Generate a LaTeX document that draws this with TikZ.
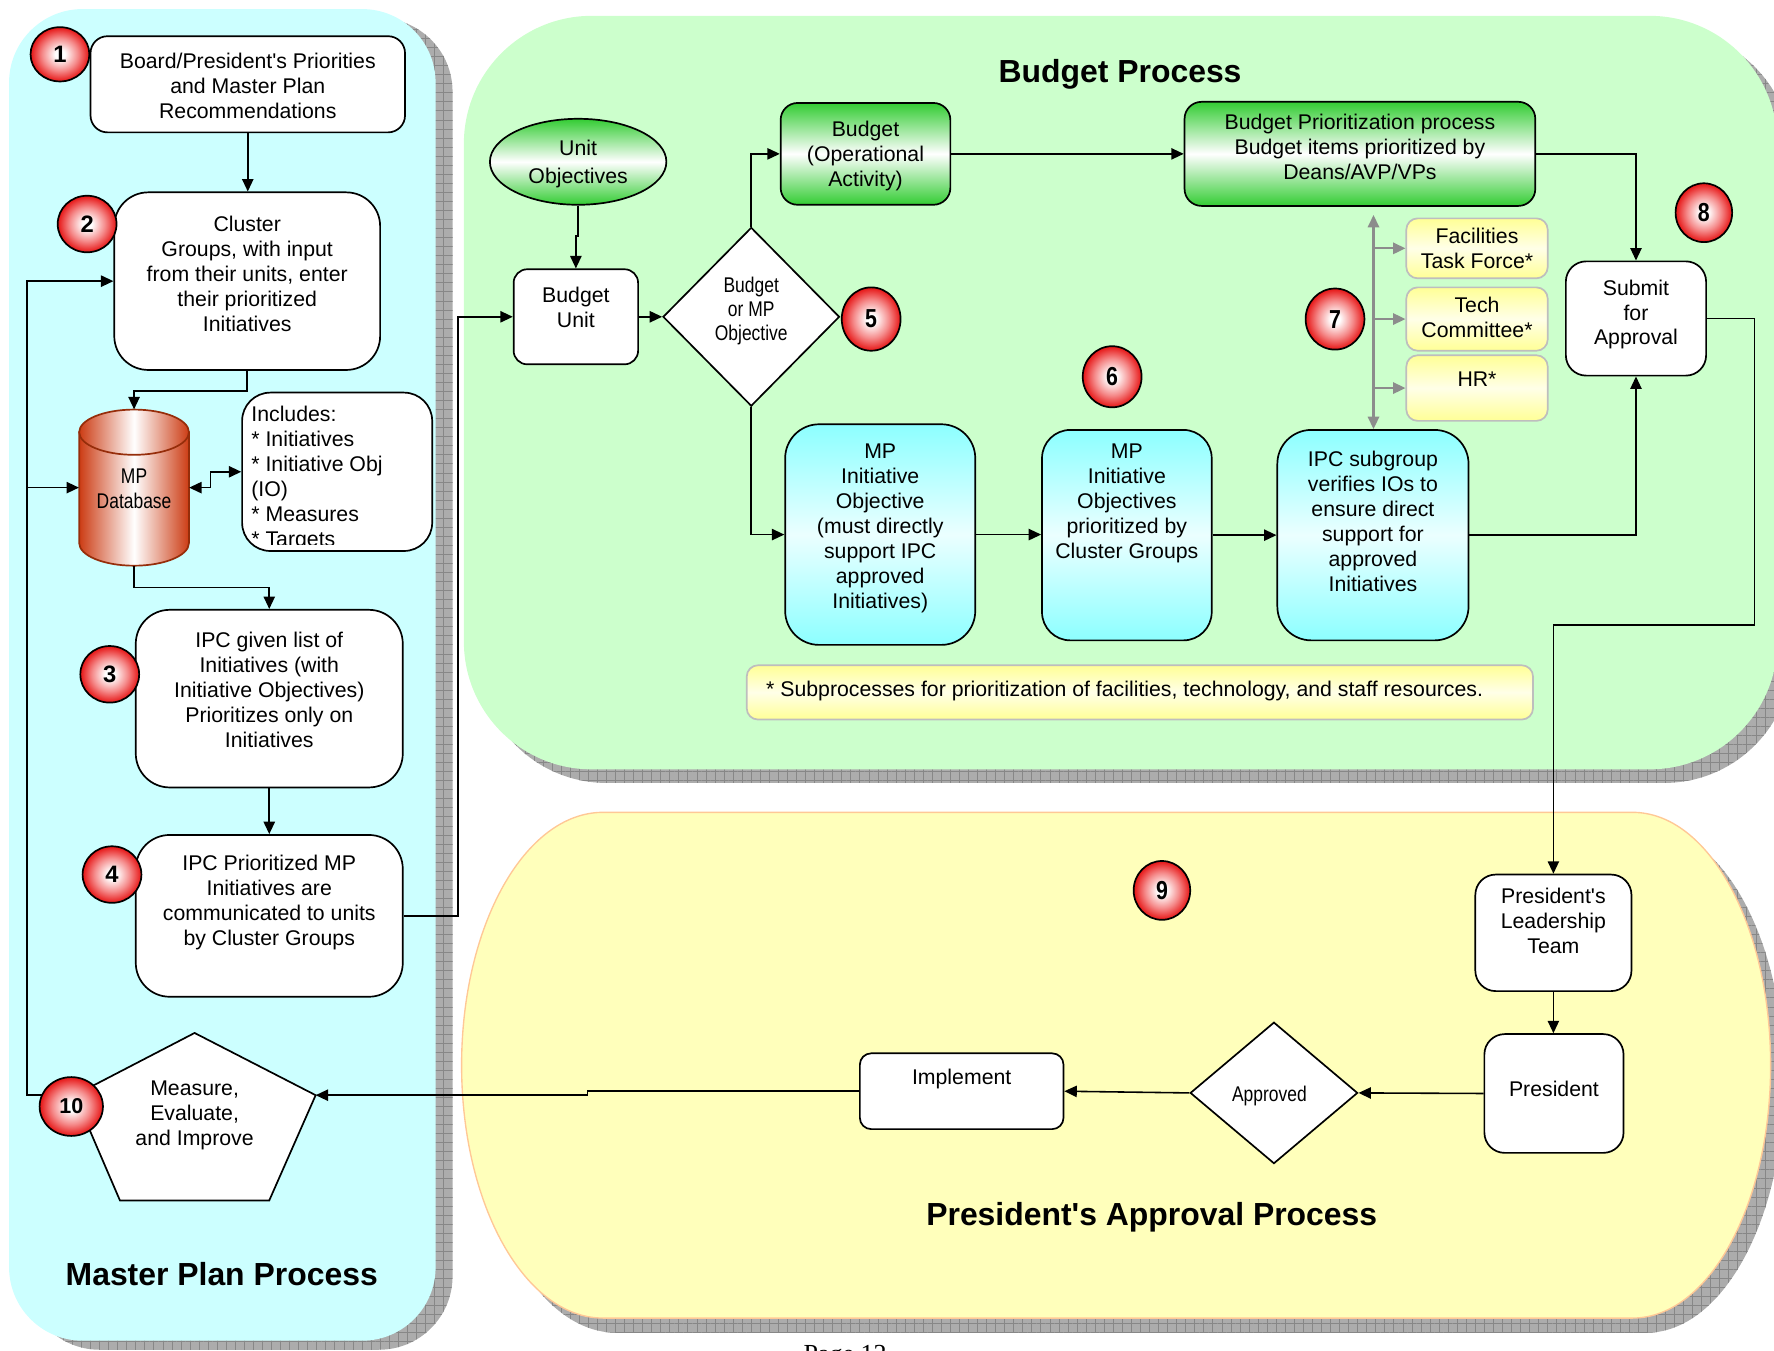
\documentclass[tikz,border=0pt]{standalone}
\usepackage{fontspec}
\setmainfont{Liberation Sans}[Ligatures=TeXOff]
\newfontfamily\narrowfont{Liberation Sans}[FakeStretch=0.82,Ligatures=TeXOff]
\newfontfamily\pagefont{Liberation Serif}
\usetikzlibrary{shapes.geometric,arrows.meta,patterns.meta}
\definecolor{mpcyan}{RGB}{204,255,255}
\definecolor{bgreen}{RGB}{204,255,204}
\definecolor{pyel}{RGB}{255,255,187}
\definecolor{pyedge}{RGB}{255,200,150}
\definecolor{shadowgray}{RGB}{172,172,172}
\definecolor{gridgray}{RGB}{135,135,135}
\definecolor{ggreen}{RGB}{51,204,51}
\definecolor{ccyan}{RGB}{140,255,255}
\definecolor{cwhite}{RGB}{235,255,255}
\definecolor{yyel}{RGB}{255,255,150}
\definecolor{ylight}{RGB}{255,255,232}
\definecolor{ygrey}{RGB}{190,190,190}
\definecolor{dbred}{RGB}{204,60,20}
\definecolor{dbedge}{RGB}{150,45,10}
\definecolor{garrow}{RGB}{140,140,140}
\definecolor{ballred}{RGB}{230,20,20}
\definecolor{ballmid}{RGB}{245,140,140}
\pgfdeclareradialshading{redball}{\pgfpoint{0bp}{0bp}}{color(0bp)=(white); color(4bp)=(white); color(15bp)=(ballmid); color(25bp)=(ballred); color(50bp)=(ballred)}
\begin{document}
\begin{tikzpicture}[x=1pt,y=-1pt,
  box/.style={draw=black, line width=1.5pt, fill=white, inner sep=0pt, rounded corners=#1},
  box/.default=15pt,
  gbox/.style={box=#1, top color=ggreen, bottom color=ggreen, middle color=white},
  gbox/.default=15pt,
  cbox/.style={box=#1, top color=ccyan, bottom color=ccyan, middle color=cwhite},
  cbox/.default=30pt,
  ybox/.style={draw=ygrey, line width=1.5pt, inner sep=0pt, rounded corners=10pt, top color=yyel, bottom color=yyel, middle color=ylight},
  txt/.style={align=center, font=\fontsize{18.8}{22}\selectfont, inner sep=0pt},
  ntxt/.style={align=center, font=\narrowfont\fontsize{18.8}{21.5}\selectfont, inner sep=0pt},
  ball/.style={ellipse, draw=black, line width=1.5pt, shading=redball, inner sep=0pt, font=\bfseries\fontsize{21}{21}\selectfont},
  nball/.style={ball, font=\narrowfont\bfseries\fontsize{23}{23}\selectfont},
  dia/.style={diamond, draw=black, line width=1.5pt, fill=white, inner sep=0pt},
  conn/.style={line width=1.4pt, -{Triangle[length=11pt,width=10pt]}},
  dconn/.style={line width=1.4pt, {Triangle[length=11pt,width=10pt]}-{Triangle[length=11pt,width=10pt]}},
  gconn/.style={draw=garrow, line width=2pt, -{Triangle[length=11pt,width=10pt]}},
  ttl/.style={font=\bfseries\fontsize{28.2}{30}\selectfont, inner sep=0pt, anchor=base},
  shadowfill/.style={fill=shadowgray},
  gridh/.style={pattern={Lines[angle=0,distance=8pt,line width=0.7pt]}, pattern color=gridgray},
  gridv/.style={pattern={Lines[angle=90,distance=8pt,line width=0.7pt]}, pattern color=gridgray}
]
\useasboundingbox (0,0) rectangle (1568,1194);

% ---------- panel shadows ----------
\foreach \g in {shadowfill,gridh,gridv}{
  \path[\g, rounded corners=65pt] (23,16) rectangle (400,1193);
  \path[\g, rounded corners=113pt] (423,26) rectangle (1584,692);
  \path[\g] (545,731) -- (1455,731) arc[start angle=90,end angle=-90,x radius=122pt,y radius=223.5pt]
     -- (545,1178) arc[start angle=270,end angle=90,x radius=125pt,y radius=223.5pt] -- cycle;
}
% ---------- panels ----------
\fill[mpcyan, rounded corners=65pt] (8,8) rectangle (385,1185);
\fill[bgreen, rounded corners=113pt] (410,14) rectangle (1571,680);
\filldraw[fill=pyel, draw=pyedge, line width=1.2pt] (533,718) -- (1443,718)
   arc[start angle=90,end angle=-90,x radius=122pt,y radius=223.5pt]
   -- (533,1165) arc[start angle=270,end angle=90,x radius=125pt,y radius=223.5pt] -- cycle;

% ---------- titles ----------
\node[ttl] (tmp) at (196,1136) {Master Plan Process};
\node[ttl] (tbp) at (990,73) {Budget Process};
\node[ttl] (tpa) at (1018,1083) {President's Approval Process};

% ---------- Master Plan nodes ----------
\node[box=15pt, minimum width=278, minimum height=85] (b1) at (219,74.5) {};
\node[txt] (t1) at (219,76) {Board/President's Priorities\\and Master Plan\\Recommendations};
\node[box=30pt, minimum width=235, minimum height=157] (b2) at (218.5,248.5) {};
\node[txt] (t2) at (218.5,242) {Cluster\\Groups, with input\\from their units, enter\\their prioritized\\Initiatives};

% database cylinder
\path[left color=dbred, right color=dbred, middle color=white, draw=dbedge, line width=1.5pt]
  (70,382) -- (70,480) arc[start angle=180,end angle=360,x radius=48.5pt,y radius=20pt] -- (167,382) -- cycle;
\path[left color=dbred, right color=dbred, middle color=white, draw=dbedge, line width=1.5pt]
  (118.5,382) ellipse[x radius=48.5pt, y radius=20pt];
\node[minimum width=97, minimum height=138, inner sep=0pt] (db) at (118.5,431) {};
\node[ntxt] (tdb) at (118.5,432) {MP\\Database};

\node[box=25pt, minimum width=168, minimum height=140] (inc) at (298,417) {};
\begin{scope}
  \clip[rounded corners=24pt] (215,348) rectangle (381,481);
  \node[txt, align=left, anchor=north west] (tinc) at (222,359) {Includes:\\* Initiatives\\* Initiative Obj\\(IO)\\* Measures\\* Targets};
\end{scope}

\node[box=30pt, minimum width=236, minimum height=157] (b3) at (238,617.5) {};
\node[txt] (t3) at (238,610) {IPC given list of\\Initiatives (with\\Initiative Objectives)\\Prioritizes only on\\Initiatives};
\node[box=30pt, minimum width=236, minimum height=143] (b4) at (238,809.5) {};
\node[txt] (t4) at (238,797.5) {IPC Prioritized MP\\Initiatives are\\communicated to units\\by Cluster Groups};

% pentagon
\filldraw[fill=white, draw=black, line width=1.5pt] (172,913) -- (279,968) -- (238,1061) -- (106,1061) -- (66,968) -- cycle;
\coordinate (pR) at (279,968);
\coordinate (pL) at (66,968);
\node[txt] (t10) at (172,986) {Measure,\\Evaluate,\\and Improve};

% ---------- Budget nodes ----------
\node[ellipse, draw=black, line width=1.5pt, top color=ggreen, bottom color=ggreen, middle color=white,
      minimum width=156, minimum height=76, inner sep=0pt] (uo) at (511,143) {};
\node[txt, font=\fontsize{18.8}{24}\selectfont] (tuo) at (511,145) {Unit\\Objectives};
\node[box=12pt, minimum width=110, minimum height=84] (bu) at (509,280) {};
\node[txt] (tbu) at (509,272) {Budget\\Unit};
\node[dia, minimum width=156, minimum height=158] (dia) at (664,280) {};
\node[ntxt] (tdia) at (664,275) {Budget\\or MP\\Objective};
\node[gbox=15pt, minimum width=150, minimum height=90] (bop) at (765,136) {};
\node[txt] (tbop) at (765,138) {Budget\\(Operational\\Activity)};
\node[gbox=15pt, minimum width=310, minimum height=92] (bp) at (1202,136) {};
\node[txt] (tbpx) at (1202,130) {Budget Prioritization process\\Budget items prioritized by\\Deans/AVP/VPs};
\node[box=18pt, minimum width=124, minimum height=101] (sub) at (1446,281.5) {};
\node[txt] (tsub) at (1446,278) {Submit\\for\\Approval};

\node[cbox=30pt, minimum width=168, minimum height=195] (mpio) at (778,472.5) {};
\node[txt] (tmpio) at (778,467) {MP\\Initiative\\Objective\\(must directly\\support IPC\\approved\\Initiatives)};
\node[cbox=25pt, minimum width=150, minimum height=186] (mpios) at (996,473) {};
\node[txt] (tmpios) at (996,445) {MP\\Initiative\\Objectives\\prioritized by\\Cluster Groups};
\node[cbox=30pt, minimum width=169, minimum height=186] (ipc) at (1213.5,473) {};
\node[txt] (tipc) at (1213.5,461) {IPC subgroup\\verifies IOs to\\ensure direct\\support for\\approved\\Initiatives};

\node[ybox, minimum width=125, minimum height=53] (fac) at (1305.5,219.5) {};
\node[txt] (tfac) at (1305.5,219.5) {Facilities\\Task Force*};
\node[ybox, minimum width=125, minimum height=56] (tech) at (1305.5,282) {};
\node[txt] (ttech) at (1305.5,280.5) {Tech\\Committee*};
\node[ybox, minimum width=125, minimum height=58] (hr) at (1305.5,343) {};
\node[txt] (thr) at (1305.5,335) {HR*};

\node[ybox, minimum width=695, minimum height=48] (foot) at (1007.5,612) {};
\node[txt, anchor=west] (tfoot) at (677,611) {* Subprocesses for prioritization of facilities, technology, and staff resources.};

% ---------- President's nodes ----------
\node[box=18pt, minimum width=138, minimum height=103] (plt) at (1373,824.5) {};
\node[txt] (tplt) at (1373,814) {President's\\Leadership\\Team};
\node[box=18pt, minimum width=123, minimum height=105] (pres) at (1373.5,966.5) {};
\node[txt] (tpres) at (1373.5,962) {President};
\node[dia, minimum width=148, minimum height=125] (ap) at (1126,966) {};
\node[ntxt] (tap) at (1122,969) {Approved};
\node[box=10pt, minimum width=180, minimum height=67] (imp) at (850,964.5) {};
\node[txt] (timp) at (850,954) {Implement};

% ---------- connectors ----------
\coordinate (lp) at (24,968);
\draw[conn] (b1.south) -- (b1.south |- b2.north);
\draw[conn] (b2.south) -- ++(0,18) -| (db.north);
\draw[dconn] (db.east) -- ++(19,0) |- (inc.west);
\draw[conn] (db.south) -- ++(0,19) -| (b3.north);
\draw[conn] (b3.south) -- (b4.north);
\draw[conn] (b4.east) -- ++(48,0) |- (bu.west);
\draw[conn] (pL) -- (lp) |- (b2.west);
\draw[conn] (lp |- db.west) -- (db.west);

\draw[conn] (uo.south) -- ++(0,27) -| (bu.north);
\draw[conn] (bu.east) -- (dia.west);
\draw[conn] (dia.north) |- (bop.west);
\draw[conn] (bop.east) -- (bp.west);
\draw[conn] (bp.east) -| (sub.north);
\draw[conn] (dia.south) |- (mpio.west);
\draw[conn] (mpio.east) -- (mpio.east -| mpios.west);
\draw[conn] (mpios.east) -- (ipc.west);
\draw[conn] (ipc.east) -| (sub.south);

\coordinate (gtop) at (1214,190);
\draw[gconn, {Triangle[length=11pt,width=10pt]}-{Triangle[length=11pt,width=10pt]}] (gtop) -- (gtop |- ipc.north);
\draw[gconn] (gtop |- fac.west) -- (fac.west);
\draw[gconn] (gtop |- tech.west) -- (tech.west);
\draw[gconn] (gtop |- hr.west) -- (hr.west);

\draw[conn] (sub.east) -- ++(42,0) -- ++(0,271) -| (plt.north);
\draw[conn] (plt.south) -- (plt.south |- pres.north);
\draw[conn] (pres.west) -- (ap.east);
\draw[conn] (ap.west) -- (imp.east);
\draw[conn] (imp.west) -- ++(-240,0) |- (pR);

% ---------- numbered balls ----------
\node[ball, minimum width=52, minimum height=48] (n1) at (53,48) {1};
\node[ball, minimum width=52, minimum height=50] (n2) at (77,198) {2};
\node[ball, minimum width=52, minimum height=50] (n3) at (97,596) {3};
\node[ball, minimum width=52, minimum height=50] (n4) at (99,773) {4};
\node[nball, minimum width=52, minimum height=56] (n5) at (770,282) {5};
\node[nball, minimum width=52, minimum height=54] (n6) at (983,333) {6};
\node[nball, minimum width=52, minimum height=54] (n7) at (1180,282) {7};
\node[nball, minimum width=50, minimum height=52] (n8) at (1506,188) {8};
\node[nball, minimum width=50, minimum height=52] (n9) at (1027,787) {9};
\node[ball, minimum width=56, minimum height=52, font=\bfseries\fontsize{19}{19}\selectfont] (n10) at (63,978) {10};

% ---------- page number (cut by page edge, as in the reference) ----------
\node[font=\pagefont\fontsize{23}{23}\selectfont, anchor=base, inner sep=0pt] (pg) at (747,1204) {Page 12};
\end{tikzpicture}
\end{document}
